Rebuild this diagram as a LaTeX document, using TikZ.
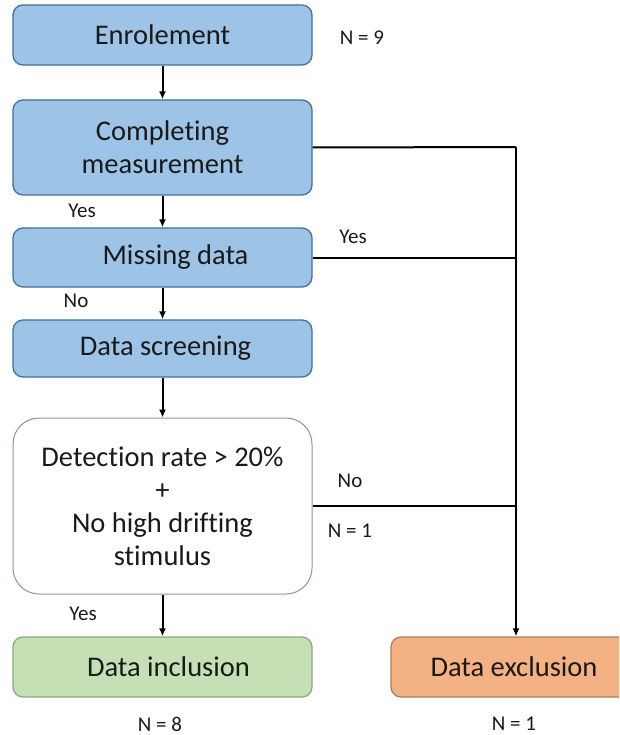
\documentclass[tikz,border=0pt]{standalone}
\usepackage{fontspec}
\setmainfont{Carlito}[Ligatures={NoCommon}]
\usetikzlibrary{arrows.meta}
\definecolor{boxblue}{HTML}{9DC3E6}
\definecolor{edgeblue}{HTML}{41719C}
\definecolor{boxgreen}{HTML}{C5E0B4}
\definecolor{edgegreen}{HTML}{8FA882}
\definecolor{boxorange}{HTML}{F4B183}
\definecolor{edgeorange}{HTML}{A8805F}
\definecolor{edgegrey}{HTML}{8497B0}
\definecolor{ink}{HTML}{1A1A1A}
\tikzset{
  boxbase/.style={rounded corners=10pt, minimum width=299pt, inner sep=0pt, align=center,
    text=ink, font=\fontsize{28.5}{33}\selectfont, line width=1.3pt},
  bluebox/.style={boxbase, fill=boxblue, draw=edgeblue},
  whitebox/.style={boxbase, fill=white, draw=edgegrey, line width=1pt, rounded corners=26pt},
  greenbox/.style={boxbase, fill=boxgreen, draw=edgegreen},
  orangebox/.style={boxbase, fill=boxorange, draw=edgeorange, minimum width=250pt},
  lbl/.style={text=ink, font=\fontsize{21}{24}\selectfont, inner sep=0pt},
  conn/.style={line width=2pt, draw=black},
  arr/.style={conn, -{Latex[length=8pt,width=7pt]}}
}
\begin{document}
\begin{tikzpicture}[x=1pt,y=-1pt]
\useasboundingbox (0,0) rectangle (619,735);
\clip (0,0) rectangle (619,735);
\fill[white] (0,0) rectangle (619,735);

\node[bluebox, minimum height=60pt] (enrol) at (162.5,35) {Enrolement};
\node[bluebox, minimum height=95pt] (comp) at (162.5,147.5) {Completing\\measurement};
\node[bluebox, minimum height=59pt] (miss) at (162.5,257.5) {\hspace*{26pt}Missing data};
\node[bluebox, minimum height=57pt] (screen) at (162.5,348.5) {\hspace*{6pt}Data screening};
\node[whitebox, minimum height=176pt] (detect) at (162.5,506) {Detection rate > 20\%\\+\\No high drifting\\stimulus};
\node[greenbox, minimum height=60pt] (incl) at (162.5,667) {\hspace*{12pt}Data inclusion};
\node[orangebox, minimum height=60pt] (excl) at (516,667) {\hspace*{-4pt}Data exclusion};

\coordinate (j1) at (516,147);

\draw[arr] (enrol) -- (comp);
\draw[arr] (comp) -- (miss);
\draw[arr] (miss) -- (screen);
\draw[arr] (screen) -- (detect);
\draw[arr] (detect) -- (incl);

\draw[conn] (comp.east) -- (j1);
\draw[arr] (j1) -- (excl.north);
\draw[conn] (miss.east) -- (miss.east -| j1);
\draw[conn] (detect.east) -- (detect.east -| j1);

\node[lbl] (n9) at (362,38) {N = 9};
\node[lbl] (yes1) at (82,211) {Yes};
\node[lbl] (yes2) at (353,237) {Yes};
\node[lbl] (no1) at (76,301) {No};
\node[lbl] (no2) at (350,481) {No};
\node[lbl] (n1a) at (350,531) {N = 1};
\node[lbl] (yes3) at (83,614) {Yes};
\node[lbl] (n8) at (160,724) {N = 8};
\node[lbl] (n1b) at (514,724) {N = 1};
\end{tikzpicture}
\end{document}
